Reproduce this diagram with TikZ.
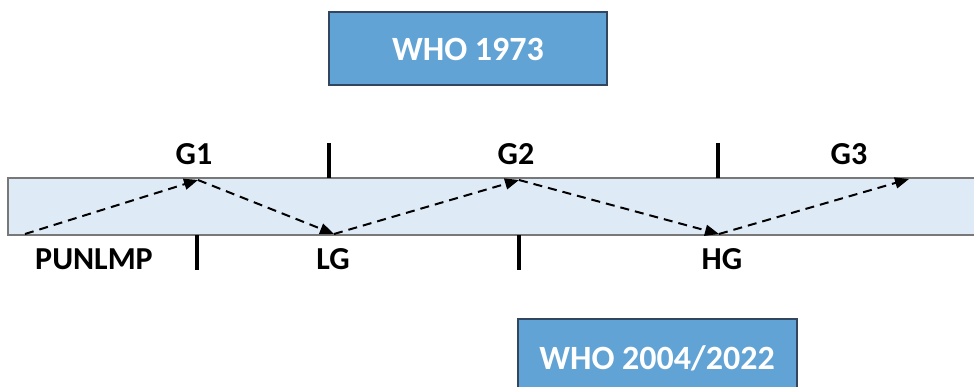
\documentclass[tikz,border=0pt]{standalone}
\usepackage{fontspec}
\setmainfont{Carlito}
\usetikzlibrary{arrows.meta}
\definecolor{boxfill}{RGB}{97,163,213}
\definecolor{boxline}{RGB}{50,70,95}
\definecolor{bandfill}{RGB}{222,235,247}
\definecolor{bandline}{RGB}{120,120,120}
\tikzset{
  whobox/.style={draw=boxline, line width=1.2pt, fill=boxfill, text=white, font=\fontsize{34}{40}\selectfont\bfseries, inner sep=0pt},
  whotext/.style={text=white, font=\fontsize{34}{40}\selectfont\bfseries, inner sep=0pt, text depth=0pt},
  lbl/.style={font=\fontsize{32}{38}\selectfont\bfseries, text=black, inner sep=0pt, text depth=0pt},
  tick/.style={line width=4pt, black},
  flow/.style={dash pattern=on 9pt off 6pt, line width=2pt, -{Triangle[length=14pt,width=11pt]}}
}
\begin{document}
\begin{tikzpicture}[x=1pt,y=-1pt]
\useasboundingbox (0,0) rectangle (974,387);
% band
\draw[draw=bandline, fill=bandfill, line width=1.2pt] (8,178) rectangle (980,235);
% boxes
\node[whobox, minimum width=278pt, minimum height=73pt] (who73) at (468,48.5) {};
\node[whotext] (who73t) at (468,49) {WHO 1973};
\node[whobox, minimum width=279pt, minimum height=80pt] (who04) at (657.5,359) {};
\node[whotext] (who04t) at (657,357.5) {WHO 2004/2022};
% ticks
\draw[tick] (329,143) -- (329,178);
\draw[tick] (718,143) -- (718,178);
\draw[tick] (197,235) -- (197,270);
\draw[tick] (519,235) -- (519,270);
% labels
\node[lbl] (g1) at (194,154) {G1};
\node[lbl] (g2) at (516,154) {G2};
\node[lbl] (g3) at (849,154) {G3};
\node[lbl] (pun) at (94,259) {PUNLMP};
\node[lbl] (lg) at (333,259) {LG};
\node[lbl] (hg) at (722,259) {HG};
% path points
\coordinate (p0) at (25,234);
\coordinate (p1) at (198,180);
\coordinate (p2) at (334,234);
\coordinate (p3) at (519,180);
\coordinate (p4) at (719,234);
\coordinate (p5) at (909,179);
\draw[flow] (p0) -- (p1);
\draw[flow] (p1) -- (p2);
\draw[flow] (p2) -- (p3);
\draw[flow] (p3) -- (p4);
\draw[flow] (p4) -- (p5);
\end{tikzpicture}
\end{document}
